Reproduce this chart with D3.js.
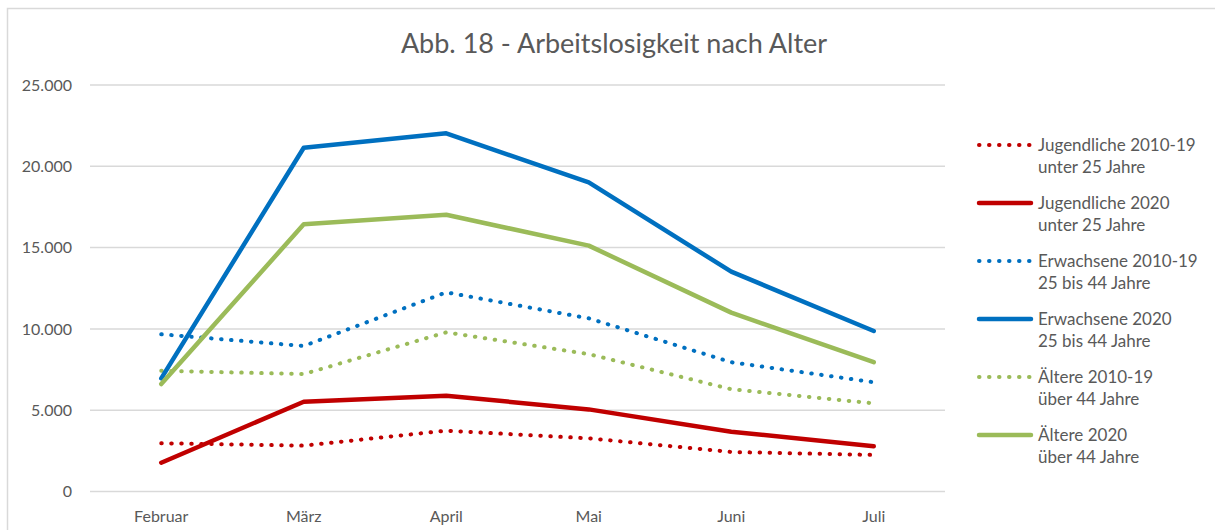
<!DOCTYPE html>
<html>
<head>
<meta charset="utf-8">
<script src="https://cdn.jsdelivr.net/npm/d3@7"></script>
<style>
  body { margin: 0; background: #fff; }
  svg { display: block; font-family: Lato, "Open Sans", sans-serif; }
</style>
</head>
<body>
<svg id="chart"></svg>
<script>
const months = ["Februar", "März", "April", "Mai", "Juni", "Juli"]
const yTicks = [0, 5000, 10000, 15000, 20000, 25000]

const jugend1019 = [2970, 2820, 3740, 3270, 2430, 2250]
const jugend2020 = [1770, 5520, 5890, 5050, 3680, 2780]
const erw1019 = [9670, 8950, 12250, 10650, 7950, 6720]
const erw2020 = [6960, 21140, 22030, 19010, 13520, 9870]
const aelt1019 = [7430, 7220, 9790, 8450, 6290, 5420]
const aelt2020 = [6610, 16430, 17020, 15120, 11000, 7950]

const series = [
  { name: ["Jugendliche 2010-19", "unter 25 Jahre"], values: jugend1019, color: "#C00000", dotted: true },
  { name: ["Jugendliche 2020", "unter 25 Jahre"], values: jugend2020, color: "#C00000", dotted: false },
  { name: ["Erwachsene 2010-19", "25 bis 44 Jahre"], values: erw1019, color: "#0070C0", dotted: true },
  { name: ["Erwachsene 2020", "25 bis 44 Jahre"], values: erw2020, color: "#0070C0", dotted: false },
  { name: ["Ältere 2010-19", "über 44 Jahre"], values: aelt1019, color: "#9BBB59", dotted: true },
  { name: ["Ältere 2020", "über 44 Jahre"], values: aelt2020, color: "#9BBB59", dotted: false }
]

const width = 1215
const height = 530
const textColor = "#595959"

const de = d3.formatLocale({ decimal: ",", thousands: ".", grouping: [3], currency: ["", " €"] })
const fmt = de.format(",")

const svg = d3.select("#chart")
    .attr("width", width)
    .attr("height", height)

// chart frame
svg.append("rect")
    .attr("x", 7.5).attr("y", 8.5)
    .attr("width", width).attr("height", height)
    .attr("fill", "none")
    .attr("stroke", "#d9d9d9")
    .attr("stroke-width", 1.5)

svg.append("text")
    .attr("x", 614)
    .attr("y", 53)
    .attr("text-anchor", "middle")
    .attr("fill", textColor)
    .style("font-size", "27px")
    .text("Abb. 18 - Arbeitslosigkeit nach Alter")

const x = d3.scalePoint().domain(months).range([90, 945]).padding(0.5)
const y = d3.scaleLinear().domain([0, 25000]).range([491.5, 85])

// gridlines
svg.append("g")
  .selectAll("line")
  .data(yTicks)
  .join("line")
    .attr("x1", 90).attr("x2", 945)
    .attr("y1", d => y(d)).attr("y2", d => y(d))
    .attr("stroke", "#d9d9d9")
    .attr("stroke-width", 1.5)

svg.append("g")
  .selectAll("text")
  .data(yTicks)
  .join("text")
    .attr("x", 72)
    .attr("y", d => y(d))
    .attr("dy", "0.35em")
    .attr("text-anchor", "end")
    .attr("fill", textColor)
    .style("font-size", "16px")
    .text(d => fmt(d))

svg.append("g")
  .selectAll("text")
  .data(months)
  .join("text")
    .attr("x", d => x(d))
    .attr("y", 516)
    .attr("dy", "0.35em")
    .attr("text-anchor", "middle")
    .attr("fill", textColor)
    .style("font-size", "16px")
    .text(d => d)

const line = d3.line()
    .x((d, i) => x(months[i]))
    .y(d => y(d))

const styleLine = (sel) => sel
    .attr("fill", "none")
    .attr("stroke", d => d.color)
    .attr("stroke-width", d => d.dotted ? 4 : 4.5)
    .attr("stroke-linecap", "round")
    .attr("stroke-linejoin", "round")
    .attr("stroke-dasharray", d => d.dotted ? "0.5 9.5" : null)

// draw order: dotted first, then solid
const drawOrder = [0, 2, 4, 1, 3, 5].map(i => series[i])
svg.append("g")
  .selectAll("path")
  .data(drawOrder)
  .join("path")
    .attr("d", d => line(d.values))
    .call(styleLine)

// legend
const legend = svg.append("g")
  .selectAll("g")
  .data(series)
  .join("g")
    .attr("transform", (d, i) => `translate(977,${145 + i * 58})`)

legend.append("path")
    .attr("d", d => d.dotted ? "M2,0H53" : "M2,0H54")
    .call(styleLine)

legend.append("text")
    .attr("x", 61)
    .attr("dy", "0.35em")
    .attr("fill", textColor)
    .style("font-size", "17px")
    .text(d => d.name[0])

legend.append("text")
    .attr("x", 61)
    .attr("y", 22)
    .attr("dy", "0.35em")
    .attr("fill", textColor)
    .style("font-size", "17px")
    .text(d => d.name[1])
</script>
</body>
</html>
